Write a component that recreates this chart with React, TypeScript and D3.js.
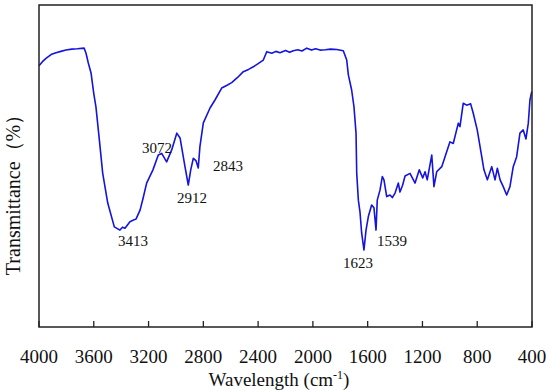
import React from "react";
import * as d3 from "d3";

// spectrum (wavenumber cm-1, transmittance %)
const wavenumbers = [
  4000, 3975, 3949, 3912, 3876, 3840, 3803, 3760, 3720, 3671, 3657, 3640, 3620, 3600, 3584, 3560,
  3535, 3498, 3450, 3409, 3390, 3372, 3336, 3310, 3292, 3262, 3240, 3214, 3168, 3129, 3104,
  3068, 3031, 2994, 2970, 2934, 2910, 2892, 2873, 2854, 2837, 2825, 2800, 2751, 2715,
  2666, 2630, 2593, 2550, 2508, 2470, 2435, 2400, 2362, 2337, 2300, 2270, 2240, 2200, 2170,
  2143, 2110, 2080, 2045, 2010, 1980, 1948, 1910, 1870, 1826, 1778, 1753, 1741, 1717,
  1700, 1685, 1680, 1668, 1656, 1644, 1627, 1612, 1595, 1571, 1554, 1539, 1530, 1510,
  1493, 1481, 1461, 1437, 1420, 1400, 1376, 1364, 1345, 1327, 1291, 1270, 1254, 1223, 1198,
  1181, 1165, 1132, 1116, 1096, 1059, 1035, 999, 975, 938, 926, 902, 877, 848, 829,
  800, 767, 751, 726, 694, 670, 653, 633, 610, 585, 561, 537, 512, 488, 464, 444, 427,
  415, 402,
];
const transmittance = [
  81.1, 82.4, 83.4, 84.6, 85.2, 85.6, 86.0, 86.3, 86.4, 86.6, 85.1, 82.0, 78.9, 72.5, 68.3, 58.4,
  47.8, 38.5, 31.1, 30.1, 31.0, 30.7, 32.7, 33.2, 33.5, 36.3, 40.0, 44.7, 48.8, 53.4, 53.9,
  51.3, 55.0, 60.2, 58.7, 49.8, 44.1, 48.8, 52.4, 51.7, 49.4, 56.0, 63.4, 68.0, 70.5,
  74.2, 75.0, 75.9, 77.5, 79.3, 80.0, 80.8, 81.8, 82.9, 85.5, 85.0, 85.6, 85.2, 85.9, 85.3,
  85.8, 86.1, 85.7, 86.6, 86.0, 86.4, 86.0, 86.1, 86.3, 86.2, 85.8, 82.9, 78.3, 73.6,
  68.4, 60.2, 47.8, 39.4, 35.7, 29.2, 23.9, 30.1, 34.3, 37.9, 37.0, 30.1, 39.4, 42.5,
  46.7, 45.7, 40.5, 41.0, 40.2, 41.6, 44.7, 41.9, 44.0, 46.9, 47.7, 46.0, 44.7, 48.8, 46.3,
  48.2, 45.7, 53.4, 43.6, 48.2, 49.8, 52.9, 57.5, 57.0, 63.3, 62.2, 69.5, 68.9, 69.3, 66.4,
  61.2, 52.9, 48.8, 45.7, 49.8, 45.7, 49.3, 45.7, 43.6, 41.0, 43.6, 49.8, 52.9, 60.2, 61.2, 58.4, 63.3,
  70.5, 73.1,
];
const xTicks = [4000, 3600, 3200, 2800, 2400, 2000, 1600, 1200, 800, 400];

// peak labels and where their text sits
const peakLabels = ["3413", "3072", "2912", "2843", "1623", "1539"];
const peakTextX = [133, 157, 192, 228, 358, 392];
const peakTextY = [246, 153, 203, 171, 268, 246];

const W = 550;
const H = 390;
const left = 39, right = 532, top = 5, bottom = 327;
const font = "'Liberation Serif', 'Times New Roman', serif";

export default function App() {
  const x = d3.scaleLinear().domain([4000, 400]).range([left, right]);
  const y = d3.scaleLinear().domain([0, 100]).range([bottom, top]);
  const pts = wavenumbers.map((w, i) => [w, transmittance[i]] as [number, number]);
  const line = d3
    .line<[number, number]>()
    .x((d) => x(d[0]))
    .y((d) => y(d[1]));

  return (
    <svg
      width={W}
      height={H}
      style={{ position: "absolute", left: 0, top: 0, background: "#fff" }}
      fontFamily={font}
    >
      <path d={line(pts) || ""} fill="none" stroke="#1414dc" strokeWidth={1.6} strokeLinejoin="round" />

      <rect x={left} y={top} width={right - left} height={bottom - top} fill="none" stroke="#222" strokeWidth={1.5} />

      {xTicks.map((t) => (
        <g key={t}>
          <line x1={x(t)} x2={x(t)} y1={bottom} y2={bottom - 6} stroke="#222" strokeWidth={1.3} />
          <text x={x(t)} y={363} textAnchor="middle" fontSize={19} fill="#111">
            {t}
          </text>
        </g>
      ))}

      {peakLabels.map((s, i) => (
        <text key={s} x={peakTextX[i]} y={peakTextY[i]} textAnchor="middle" fontSize={15} fill="#111">
          {s}
        </text>
      ))}

      <text x={279} y={386} textAnchor="middle" fontSize={19} fill="#111">
        Wavelength (cm
        <tspan fontSize={12} dy={-7}>-1</tspan>
        <tspan dy={7}>)</tspan>
      </text>

      <text
        transform="translate(20,190) rotate(-90)"
        textAnchor="middle"
        fontSize={20}
        fill="#111"
      >
        Transmittance（%）
      </text>
    </svg>
  );
}
